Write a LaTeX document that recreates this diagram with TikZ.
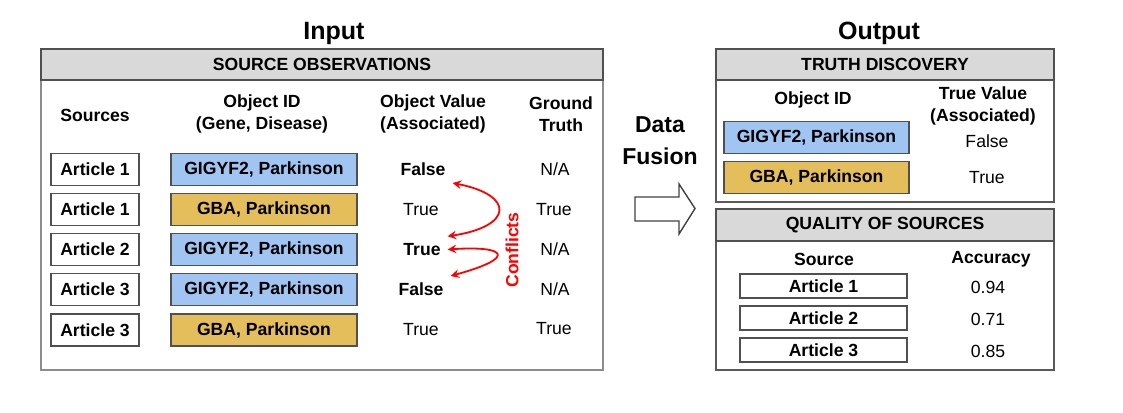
\documentclass[tikz,border=0pt]{standalone}
\usepackage{fontspec}
\setmainfont{Liberation Sans}
\usepackage{tikz}
\definecolor{geneblue}{RGB}{160,197,242}
\definecolor{genegold}{RGB}{229,190,92}
\definecolor{headgray}{RGB}{217,217,217}
\definecolor{linegray}{RGB}{80,80,80}
\newcommand{\bodyfont}{\fontsize{8.8}{11}\selectfont}
\tikzset{
  panel/.style={draw=black!45,line width=0.8pt,inner sep=0pt},
  panelhead/.style={draw=linegray,fill=headgray,line width=1pt,inner sep=0pt,font=\bodyfont\bfseries},
  srcbox/.style={draw=linegray,fill=white,line width=0.8pt,minimum width=44pt,minimum height=16pt,inner sep=0pt,font=\bodyfont\bfseries},
  objbox/.style={draw=linegray,line width=0.8pt,minimum width=93pt,minimum height=16pt,inner sep=0pt,font=\bodyfont\bfseries},
  colhead/.style={font=\bodyfont\bfseries,align=center},
  boldval/.style={font=\bodyfont\bfseries},
  title/.style={font=\fontsize{12.5}{14}\selectfont\bfseries},
  conflict/.style={draw=red,line width=0.9pt,<->,>=stealth}
}

\begin{document}
\begin{tikzpicture}[x=0.5pt,y=-0.5pt,font=\bodyfont]
  \useasboundingbox (0,0) rectangle (1123,412);
  %titles
  \node[title] (intitle) at (334,33) {Input};
  \node[title] (outtitle) at (879,33) {Output};

  %input
  \node[panel,minimum width=281pt,minimum height=160.5pt] (srcpanel) at (322,209.5) {};
  \node[panelhead,minimum width=281pt,minimum height=15.5pt,anchor=north] (srchead) at (srcpanel.north) {SOURCE OBSERVATIONS};
  \node[colhead] (hsrc) at (95,115) {Sources};
  \node[colhead] (hobj) at (262,114) {Object ID\\(Gene, Disease)};
  \node[colhead] (hval) at (433,114) {Object Value\\(Associated)};
  \node[colhead] (hgt) at (561,114) {Ground\\Truth};
  %rows
  \node[srcbox] (src1) at (95,169.5) {Article 1};
  \node[objbox,fill=geneblue] (obj1) at (264,169.5) {GIGYF2, Parkinson};
  \node[boldval] (val1) at (423,169.5) {False};
  \node (gt1) at (555,169.5) {N/A};
  \node[srcbox] (src2) at (95,209.5) {Article 1};
  \node[objbox,fill=genegold] (obj2) at (264,209.5) {GBA, Parkinson};
  \node (val2) at (421,209.5) {True};
  \node (gt2) at (554,209.5) {True};
  \node[srcbox] (src3) at (95,249.5) {Article 2};
  \node[objbox,fill=geneblue] (obj3) at (264,249.5) {GIGYF2, Parkinson};
  \node[boldval] (val3) at (422,249.5) {True};
  \node (gt3) at (555,249.5) {N/A};
  \node[srcbox] (src4) at (95,289.5) {Article 3};
  \node[objbox,fill=geneblue] (obj4) at (264,289.5) {GIGYF2, Parkinson};
  \node[boldval] (val4) at (421,289.5) {False};
  \node (gt4) at (555,289.5) {N/A};
  \node[srcbox] (src5) at (95,330) {Article 3};
  \node[objbox,fill=genegold] (obj5) at (264,330) {GBA, Parkinson};
  \node (val5) at (421,330) {True};
  \node (gt5) at (554,329) {True};
  %conflicts
  \draw[conflict] (val1.south east) .. controls +(62,12) and +(66,-10) .. (val3.north east);
  \draw[conflict] (val3.east) .. controls +(60,-4) and +(66,-18) .. (val4.north east);
  \node[red,boldval,rotate=90] (conf) at (512,250) {Conflicts};

  %fusion
  \node[font=\fontsize{11.5}{16}\selectfont\bfseries,align=center] (fusion) at (660,141) {Data\\Fusion};
  \draw[draw=black!75,line width=0.7pt] (635,197) -- (679,197) -- (679,184) -- (695,208.5) -- (679,234) -- (679,221) -- (635,221) -- cycle;

  %output
  %top
  \node[panel,draw=black!65,minimum width=169pt,minimum height=76.5pt] (tdpanel) at (885,125.5) {};
  \node[panelhead,minimum width=169pt,minimum height=15.5pt,anchor=north] (tdhead) at (tdpanel.north) {TRUTH DISCOVERY};
  \node[colhead] (hobj2) at (813,100) {Object ID};
  \node[colhead] (htv) at (983,106) {True Value\\(Associated)};
  \node[objbox,fill=geneblue,minimum width=92.5pt] (tobj1) at (816.5,137.5) {GIGYF2, Parkinson};
  \node[objbox,fill=genegold,minimum width=92.5pt] (tobj2) at (816.5,177.5) {GBA, Parkinson};
  \node (tv1) at (987,141) {False};
  \node (tv2) at (987,178) {True};
  %bottom
  \node[panel,draw=black!65,minimum width=169pt,minimum height=80.5pt] (qpanel) at (885,289.5) {};
  \node[panelhead,minimum width=169pt,minimum height=16pt,anchor=north] (qhead) at (qpanel.north) {QUALITY OF SOURCES};
  \node[colhead] (hsrc2) at (824,259) {Source};
  \node[colhead] (hacc) at (991,259) {Accuracy};
  \node[srcbox,minimum width=83.5pt,minimum height=12pt] (q1) at (823.5,286) {Article 1};
  \node[srcbox,minimum width=83.5pt,minimum height=12pt] (q2) at (823.5,318) {Article 2};
  \node[srcbox,minimum width=83.5pt,minimum height=12pt] (q3) at (823.5,350) {Article 3};
  \node (acc1) at (988,287) {0.94};
  \node (acc2) at (988,319) {0.71};
  \node (acc3) at (988,351) {0.85};
\end{tikzpicture}
\end{document}
